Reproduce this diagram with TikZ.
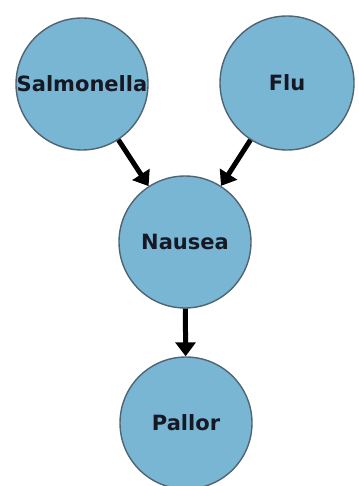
\documentclass[tikz,border=0pt]{standalone}
\usepackage{fontspec}
\setmainfont{DejaVu Sans}
\usetikzlibrary{arrows.meta}
\definecolor{nodeblue}{RGB}{120,182,212}
\definecolor{nodeedge}{RGB}{80,100,115}
\definecolor{labelink}{RGB}{22,24,36}
\begin{document}
\begin{tikzpicture}[x=1pt,y=-1pt,
    var/.style={circle, draw=nodeedge, line width=1.4pt, fill=nodeblue, inner sep=0pt,
      minimum size=132pt, text=labelink, font=\bfseries\fontsize{21}{24}\selectfont},
    cause/.style={-{Triangle[width=20pt,length=14pt]}, line width=5pt, black}]
    \useasboundingbox (0,0) rectangle (358,486);
    \node [var] (salmonella) at (82,84) {Salmonella};
    \node [var, minimum size=134pt] (flu) at (287,83) {Flu};
    \node [var] (nausea) at (185,242) {Nausea};
    \node [var] (pallor) at (186,423) {Pallor};

  \path[cause] (salmonella) edge (nausea);
  \path[cause] (flu) edge (nausea);
  \path[cause] (nausea) edge (pallor);
\end{tikzpicture}
\end{document}
